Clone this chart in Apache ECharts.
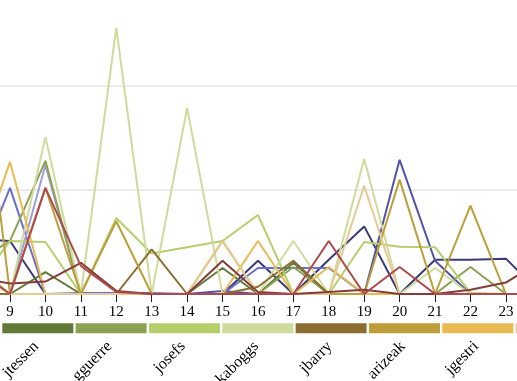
<!DOCTYPE html>
<html>
<head>
<meta charset="utf-8">
<script src="https://cdn.jsdelivr.net/npm/echarts@6/dist/echarts.min.js"></script>
<style>
html,body{margin:0;padding:0;background:#fff;overflow:hidden;width:517px;height:381px;position:relative;}
#chart{position:absolute;left:-40px;top:-30px;width:600px;height:420px;}
</style>
</head>
<body>
<div id="chart"></div>
<script>
// x categories (visible window 9..23, plus one on each side that runs off the edge)
const categories = ['8','9','10','11','12','13','14','15','16','17','18','19','20','21','22','23','24'];

// series values
const navy     = [5.3, 5.1, 0, 0, 0, 0, 0, 0, 3.2, 0, 3.3, 6.5, 0, 3.3, 3.3, 3.4, 0];
const blue     = [0, 0, 0, 0, 0, 0, 0, 0.3, 0, 0, 0, 0, 12.9, 3.2, 0, 0, 0];
const periw    = [1.8, 10.2, 0, 0.1, 0.1, 0.1, 0, 0, 2.5, 2.5, 2.5, 0, 0, 0, 0, 0, 0];
const lightBlue= [0, 0, 12.4, 0, 0, 0, 0, 0, 0, 0, 0, 0, 0, 0, 0, 0, 0];
const jtessen  = [0, 0, 2.1, 0, 0, 0, 0, 2.5, 0, 3.0, 0, 0, 0, 0, 0, 0, 0];
const gguerre  = [3, 5.1, 12.8, 0, 0, 0, 0, 0, 0, 2.6, 0, 0, 0, 0, 2.6, 0, 0];
const josefs   = [0.5, 5.1, 5.0, 0, 7.3, 3.9, 4.5, 5.1, 7.6, 0, 0, 5.0, 4.55, 4.5, 0.1, 0, 0];
const kaboggs  = [3, 0, 15.1, 0, 25.6, 0, 17.9, 0, 0, 5.1, 0, 13.0, 0, 2.5, 0, 0, 0];
const jbarry   = [0, 0, 0, 0, 0, 4.3, 0, 0, 0.7, 3.2, 0, 0, 0, 0, 0, 0, 0];
const arizeak  = [28, 0, 10.2, 0, 7.0, 0, 0, 5.1, 0, 0, 0, 0, 11.0, 0, 8.5, 0, 0];
const jgestri  = [2.8, 12.7, 0, 0, 0, 0, 0, 0, 5.1, 0, 2.6, 0, 0, 0, 0, 0, 0];
const tan      = [2, 0, 0, 0, 0, 0, 0, 5.1, 0, 0, 0, 10.4, 0, 0, 0, 0, 0];
const darkRed  = [1.6, 1.0, 1.2, 3.0, 0.3, 0, 0, 3.2, 0.2, 0, 0.2, 0.4, 0, 0, 0.4, 1.1, 3.2];
const red      = [2.5, 0, 10.2, 2.7, 0.2, 0, 0, 0, 0, 0, 5.1, 0, 2.6, 0, 0, 0, 0];

const seriesData = [navy, blue, periw, lightBlue, jtessen, gguerre, josefs, kaboggs, jbarry, arizeak, jgestri, tan, darkRed, red];
const seriesNames = ['', '', '', '', 'jtessen', 'gguerre', 'josefs', 'kaboggs', 'jbarry', 'arizeak', 'jgestri', '', '', ''];
const colors = ['#393b79','#5254a3','#6b6ecf','#9c9ede','#637939','#8ca252','#b5cf6b','#cedb9c','#8c6d31','#bd9e39','#e7ba52','#e7cb94','#843c39','#ad494a'];

const yTicks = [0, 10, 20, 30];

const FONT = '"Liberation Serif", "Times New Roman", serif';
const OX = 40, OY = 30; // container offset relative to the visible page
const chart = echarts.init(document.getElementById('chart'), null, {renderer:'canvas'});

// legend strip (decoration)
const pitch = 73.33, x0 = OX + 2.3 - 4 * pitch, rectW = 71;
const graphics = [];
for (let i = 4; i < colors.length && i <= 11; i++) {
  const x = x0 + i * pitch;
  graphics.push({type:'rect', shape:{x:x, y:OY + 323.3, width:rectW, height:10}, style:{fill:colors[i]}, silent:true});
  if (seriesNames[i]) {
    graphics.push({type:'text', x: x + rectW/2 - 1.5, y: OY + 344, rotation: Math.PI/4,
      style:{text: seriesNames[i], fill:'#000', font:'16px ' + FONT, align:'right', verticalAlign:'middle'}, silent:true});
  }
}

chart.setOption({
  animation:false,
  backgroundColor:'#fff',
  grid:{left: OX - 25.4, right: 600 - (OX + 541.3), top: OY - 18, bottom: 96, containLabel:false},
  xAxis:{
    type:'category', data:categories, boundaryGap:false,
    axisLine:{show:true, lineStyle:{color:'#333', width:1}},
    axisTick:{show:true, length:8, lineStyle:{color:'#222'}},
    axisLabel:{color:'#000', fontFamily:FONT, fontSize:15, margin:11},
    splitLine:{show:false}
  },
  yAxis:{
    type:'value', min:yTicks[0], max:yTicks[yTicks.length-1], interval:10,
    axisLabel:{show:false}, axisLine:{show:false}, axisTick:{show:false},
    splitLine:{show:true, lineStyle:{color:'#ececec', width:2}}
  },
  series: seriesData.map((d, i) => ({
    type:'line', name: seriesNames[i] || ('s' + i), data: d,
    symbol:'none', smooth:false,
    lineStyle:{color:colors[i], width:2},
    itemStyle:{color:colors[i]}
  })),
  graphic: graphics
});
</script>
</body>
</html>
